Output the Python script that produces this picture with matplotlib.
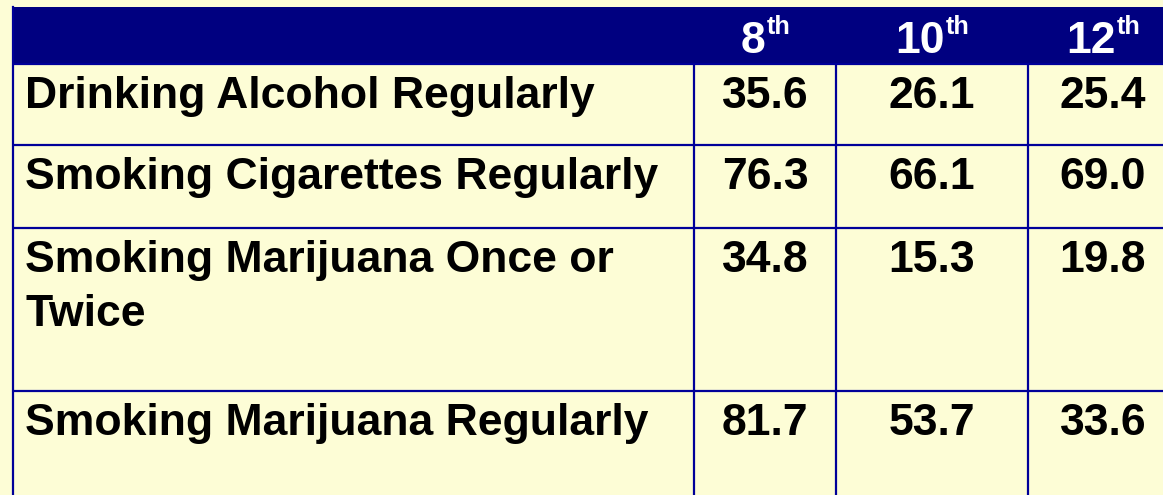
import matplotlib
matplotlib.use("Agg")
import matplotlib.pyplot as plt
from matplotlib.patches import Rectangle

# ---- data ----
grades = ["8", "10", "12"]
grade_suffix = ["th", "th", "th"]
behaviors = [
    "Drinking Alcohol Regularly",
    "Smoking Cigarettes Regularly",
    "Smoking Marijuana Once or\nTwice",
    "Smoking Marijuana Regularly",
]
grade8 = [35.6, 76.3, 34.8, 81.7]
grade10 = [26.1, 66.1, 15.3, 53.7]
grade12 = [25.4, 69.0, 19.8, 33.6]
values = [grade8, grade10, grade12]

# ---- layout (pixels) ----
W, H = 1163, 495
bg = "#FDFDD6"
header_col = "#000080"
line_col = "#000099"
col_edges = [13, 694, 836, 1028, 1178]
row_edges = [7, 64, 145, 228, 391, 560]
fs_px = 44.5
fs = fs_px * 72 / 100.0
font = "Liberation Sans"
line_gap = 54

fig = plt.figure(figsize=(W / 100, H / 100), dpi=100, facecolor=bg)
ax = fig.add_axes([0, 0, 1, 1])
ax.set_xlim(0, W)
ax.set_ylim(H, 0)
ax.axis("off")
ax.set_facecolor(bg)

# header band
ax.add_patch(Rectangle((col_edges[0], row_edges[0]), col_edges[-1] - col_edges[0],
                       row_edges[1] - row_edges[0], facecolor=header_col,
                       edgecolor=header_col, lw=0))

# grid lines
for y in row_edges[1:-1]:
    ax.plot([col_edges[0], col_edges[-1]], [y, y], color=line_col, lw=1.6,
            solid_capstyle="butt")
ax.plot([col_edges[0], col_edges[0]], [row_edges[0], row_edges[-1]], color=line_col, lw=1.6)
for x in col_edges[1:-1]:
    ax.plot([x, x], [row_edges[1], row_edges[-1]], color=line_col, lw=1.6)

# header texts with superscript
fig.canvas.draw()
renderer = fig.canvas.get_renderer()
for j, (g, s) in enumerate(zip(grades, grade_suffix)):
    cx = (col_edges[j + 1] + col_edges[j + 2]) / 2
    base_y = 53
    t1 = ax.text(0, base_y, g, fontsize=fs, fontweight="bold", family=font,
                 color="white", ha="left", va="baseline")
    t2 = ax.text(0, base_y - 19, s, fontsize=fs * 0.57, fontweight="bold", family=font,
                 color="white", ha="left", va="baseline")
    w1 = t1.get_window_extent(renderer).width
    w2 = t2.get_window_extent(renderer).width
    x0 = cx - (w1 + w2) / 2
    t1.set_x(x0)
    t2.set_x(x0 + w1 + 1)

# body
for i, lab in enumerate(behaviors):
    top = row_edges[i + 1]
    for k, line in enumerate(lab.split("\n")):
        ax.text(25, top + 44 + k * line_gap, line, fontsize=fs, fontweight="bold",
                family=font, color="black", ha="left", va="baseline")
    for j in range(len(grades)):
        cx = (col_edges[j + 1] + col_edges[j + 2]) / 2
        ax.text(cx, top + 44, f"{values[j][i]:.1f}", fontsize=fs, fontweight="bold",
                family=font, color="black", ha="center", va="baseline")

fig.savefig("out.png", dpi=100, facecolor=bg)
